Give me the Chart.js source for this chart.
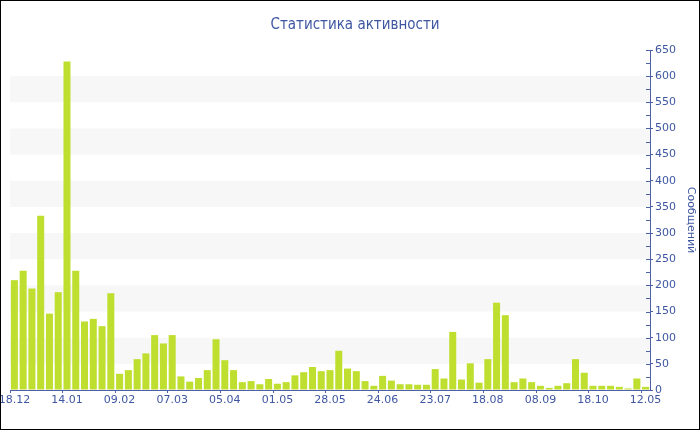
<!DOCTYPE html>
<html><head><meta charset="utf-8">
<script src="https://cdn.jsdelivr.net/npm/chart.js@4"></script>
<style>
html,body{margin:0;padding:0;background:#fff;}
#wrap{position:relative;width:700px;height:430px;}
#frame{position:absolute;left:0;top:0;width:700px;height:430px;box-sizing:border-box;border:1px solid #000;pointer-events:none;}
</style></head><body>
<div id="wrap"><canvas id="c" width="700" height="430"></canvas><div id="frame"></div></div>
<script>
const chartTitle = 'Статистика активности';
const yAxisTitle = 'Сообщений';
// dates shown on the axis (every 6th category); other category dates are not readable
const tickDates = ['18.12','14.01','09.02','07.03','05.04','01.05','28.05','24.06','23.07','18.08','08.09','18.10','12.05'];
const messages = [210,228,194,333,146,187,628,228,131,136,122,185,31,38,59,70,105,89,105,26,16,23,38,97,57,38,15,17,11,21,12,15,28,34,44,36,38,75,41,36,17,8,27,18,11,11,10,10,40,22,111,20,51,14,59,167,143,15,22,15,8,4,8,13,59,33,8,8,8,6,3,22,6];
const labels = messages.map((_, i) => (i % 6 === 0 ? tickDates[i / 6] : ''));

const blue = '#3f57a1';
const axisBlue = '#4d62a6';
const font = 'DejaVu Sans';

const bands = {
  id: 'bands',
  beforeDraw(chart) {
    const {ctx, chartArea: a, scales: {y}} = chart;
    ctx.save();
    ctx.fillStyle = '#f7f7f7';
    for (let v = 50; v < 650; v += 100) {
      const y1 = y.getPixelForValue(v + 50), y2 = y.getPixelForValue(v);
      ctx.fillRect(a.left, y1, a.right - a.left, y2 - y1);
    }
    ctx.restore();
  }
};
const innerTicks = {
  id: 'innerTicks',
  afterDatasetsDraw(chart) {
    const {ctx, chartArea: a, scales: {y}} = chart;
    ctx.save();
    ctx.strokeStyle = axisBlue;
    ctx.lineWidth = 1;
    y.ticks.forEach(t => {
      const py = Math.round(y.getPixelForValue(t.value)) + 0.5;
      ctx.beginPath();
      ctx.moveTo(a.right - 4, py);
      ctx.lineTo(a.right, py);
      ctx.stroke();
    });
    ctx.restore();
  }
};

new Chart(document.getElementById('c'), {
  type: 'bar',
  data: {
    labels: labels,
    datasets: [{
      label: yAxisTitle,
      data: messages,
      backgroundColor: '#bedf2f',
      borderWidth: 0,
      barPercentage: 0.8,
      categoryPercentage: 1.0
    }]
  },
  plugins: [bands, innerTicks],
  options: {
    responsive: false,
    animation: false,
    layout: {padding: {left: 10, right: 0, top: 0, bottom: 0}},
    plugins: {
      legend: {display: false},
      tooltip: {enabled: false},
      title: {
        display: true,
        text: chartTitle,
        color: blue,
        font: {family: 'DejaVu Sans Condensed', size: 15, weight: 'normal'},
        padding: {top: 16, bottom: 16}
      }
    },
    scales: {
      x: {
        afterFit(s) { s.height = 40; s.paddingLeft = 0; s.paddingRight = 0; },
        grid: {
          drawOnChartArea: false,
          tickLength: 3,
          tickColor: (c) => (c.index % 6 === 0 ? axisBlue : 'rgba(0,0,0,0)')
        },
        border: {display: true, color: axisBlue, width: 1},
        ticks: {
          autoSkip: false, maxRotation: 0, minRotation: 0,
          color: blue, padding: 1,
          font: {family: font, size: 11}
        }
      },
      y: {
        position: 'right',
        min: 0, max: 650,
        afterFit(s) { s.width = 50; },
        grid: {
          drawOnChartArea: false,
          tickLength: 3,
          tickColor: (c) => (c.tick && c.tick.value % 50 === 0 ? axisBlue : 'rgba(0,0,0,0)')
        },
        border: {display: true, color: axisBlue, width: 1},
        ticks: {
          stepSize: 25, autoSkip: false,
          callback: (v) => (v % 50 === 0 ? v : ''),
          color: blue, padding: 2,
          font: {family: font, size: 11}
        },
        title: {
          display: true,
          text: yAxisTitle,
          color: blue,
          font: {family: font, size: 11},
          padding: {top: 3, bottom: 0}
        }
      }
    }
  }
});
</script>
</body></html>
